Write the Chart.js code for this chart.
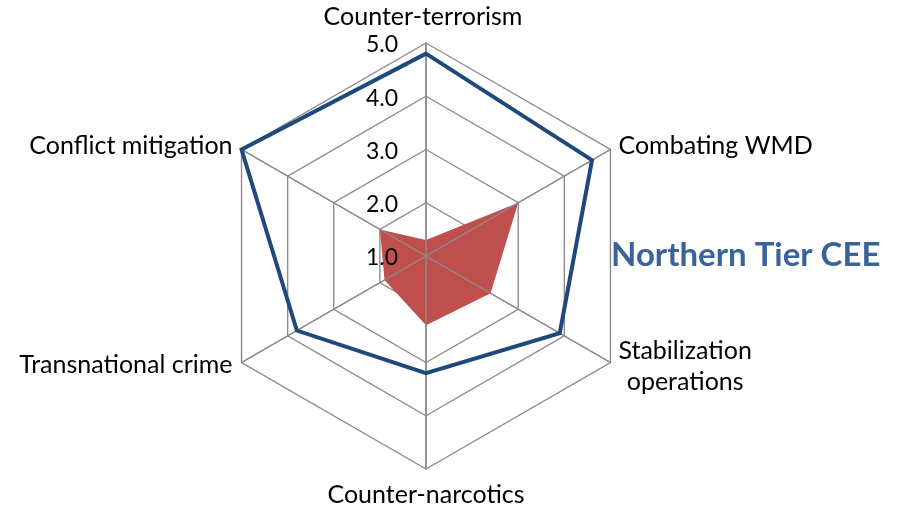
<!DOCTYPE html>
<html>
<head>
<meta charset="utf-8">
<script src="https://cdn.jsdelivr.net/npm/chart.js@4/dist/chart.umd.min.js"></script>
<style>
  html, body { margin: 0; padding: 0; background: #fff; }
  #myChart { display: block; }
</style>
</head>
<body>
<canvas id="myChart" width="905" height="510"></canvas>
<script>
// data
const categories = [
    'Counter-terrorism',
    'Combating WMD',
    ['Stabilization', 'operations'],
    'Counter-narcotics',
    'Transnational crime',
    'Conflict mitigation'
];
const regionValues = [4.8, 4.6, 3.9, 3.2, 3.8, 5.0];
const averageValues = [1.3, 3.0, 2.4, 2.3, 1.9, 2.0];
const tickValues = [1, 2, 3, 4, 5];
const chartTitle = 'Northern Tier CEE';

const gridColor = '#8c8c8c';
const gridWidth = 1.4;
const labelFont = '25px Lato';
const tickFont = '23px Lato';

// spokes drawn again on top of the red fill (as Excel does)
const overlayPlugin = {
    id: 'overlay',
    afterDatasetDraw(chart, args) {
        if (args.index !== 1) return;
        const scale = chart.scales.r;
        const ctx = chart.ctx;
        ctx.save();
        ctx.strokeStyle = gridColor;
        ctx.lineWidth = gridWidth;
        for (let i = 0; i < categories.length; i++) {
            const p = scale.getPointPosition(i, scale.drawingArea);
            ctx.beginPath();
            ctx.moveTo(scale.xCenter, scale.yCenter);
            ctx.lineTo(p.x, p.y);
            ctx.stroke();
        }
        ctx.restore();
    },
    afterDraw(chart) {
        const scale = chart.scales.r;
        const ctx = chart.ctx;
        ctx.save();
        ctx.fillStyle = '#000';

        // tick labels, right aligned left of the vertical axis
        ctx.font = tickFont;
        ctx.textAlign = 'right';
        ctx.textBaseline = 'middle';
        tickValues.forEach(v => {
            const y = scale.yCenter - scale.getDistanceFromCenterForValue(v);
            ctx.fillText(v.toFixed(1), scale.xCenter - 28, y + 2);
        });

        // point labels
        ctx.font = labelFont;
        const r = scale.drawingArea;
        ctx.textBaseline = 'alphabetic';
        const place = [
            { dx: -3, dy: -18, align: 'center' },
            { dx: 8, dy: 4, align: 'left' },
            { dx: 8, dy: -4, align: 'left' },
            { dx: 0, dy: 34, align: 'center' },
            { dx: -9, dy: 10, align: 'right' },
            { dx: -9, dy: 4, align: 'right' }
        ];
        categories.forEach((lab, i) => {
            const p = scale.getPointPosition(i, r);
            const o = place[i];
            if (Array.isArray(lab)) {
                // two line label, lines centred on each other
                const w = Math.max(...lab.map(t => ctx.measureText(t).width));
                ctx.textAlign = 'center';
                lab.forEach((t, k) => {
                    ctx.fillText(t, p.x + o.dx + w / 2, p.y + o.dy + k * 31);
                });
            } else {
                ctx.textAlign = o.align;
                ctx.fillText(lab, p.x + o.dx, p.y + o.dy);
            }
        });

        // title on the right
        ctx.font = 'bold 33px Lato';
        ctx.fillStyle = '#3a6499';
        ctx.textAlign = 'left';
        ctx.textBaseline = 'alphabetic';
        ctx.fillText(chartTitle, 611, 266);
        ctx.restore();
    }
};

const data = {
    labels: categories,
    datasets: [{
        label: chartTitle,
        data: regionValues,
        borderColor: '#1f497d',
        borderWidth: 4,
        backgroundColor: 'transparent',
        fill: false,
        pointRadius: 0,
        pointHoverRadius: 0,
        order: 1
    }, {
        label: 'Average',
        data: averageValues,
        borderWidth: 0,
        borderColor: '#c0504d',
        backgroundColor: '#c0504d',
        fill: true,
        pointRadius: 0,
        pointHoverRadius: 0,
        order: 2
    }]
};

const config = {
    type: 'radar',
    data,
    options: {
        responsive: false,
        animation: false,
        devicePixelRatio: 1,
        layout: {
            padding: { top: 43, bottom: 40, left: 200, right: 253 }
        },
        elements: {
            line: { tension: 0 }
        },
        scales: {
            r: {
                min: 1,
                max: 5,
                ticks: { display: false, stepSize: 1 },
                pointLabels: { display: false },
                grid: { color: gridColor, lineWidth: gridWidth, circular: false },
                angleLines: { color: gridColor, lineWidth: gridWidth }
            }
        },
        plugins: {
            legend: { display: false },
            tooltip: { enabled: false },
            title: { display: false }
        }
    },
    plugins: [overlayPlugin]
};

const myChart = new Chart(document.getElementById('myChart'), config);
</script>
</body>
</html>
